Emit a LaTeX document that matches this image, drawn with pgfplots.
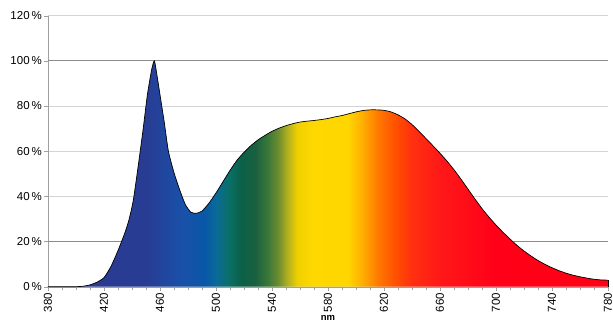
\documentclass[border=0pt]{standalone}
\usepackage{pgfplots}
\pgfplotsset{compat=1.18}
\usepackage{fontspec}
\setmainfont{Liberation Sans}

\definecolor{s380}{RGB}{42,58,144}
\definecolor{s450}{RGB}{40,60,148}
\definecolor{s475}{RGB}{26,80,168}
\definecolor{s492}{RGB}{8,88,168}
\definecolor{s500}{RGB}{10,106,152}
\definecolor{s509}{RGB}{10,112,104}
\definecolor{s518}{RGB}{10,96,72}
\definecolor{s528}{RGB}{26,96,64}
\definecolor{s537}{RGB}{58,120,56}
\definecolor{s544}{RGB}{106,138,48}
\definecolor{s551}{RGB}{176,176,32}
\definecolor{s558}{RGB}{240,208,0}
\definecolor{s570}{RGB}{255,216,0}
\definecolor{s594}{RGB}{255,214,0}
\definecolor{s604}{RGB}{255,176,0}
\definecolor{s616}{RGB}{255,120,0}
\definecolor{s628}{RGB}{255,80,0}
\definecolor{s640}{RGB}{255,48,16}
\definecolor{s660}{RGB}{255,24,24}
\definecolor{s700}{RGB}{255,0,24}
\definecolor{s780}{RGB}{255,0,20}
\definecolor{gridlight}{RGB}{212,212,212}
\definecolor{griddark}{RGB}{140,140,140}
\definecolor{axisgray}{RGB}{160,160,160}

% position = 25bp + (nm-380)/8 bp
\pgfdeclarehorizontalshading{spectrum}{100bp}{
  color(0bp)=(s380); color(25bp)=(s380); color(33.75bp)=(s450);
  color(36.875bp)=(s475); color(39bp)=(s492); color(40bp)=(s500);
  color(41.125bp)=(s509); color(42.25bp)=(s518); color(43.5bp)=(s528);
  color(44.625bp)=(s537); color(45.5bp)=(s544); color(46.375bp)=(s551);
  color(47.25bp)=(s558); color(48.75bp)=(s570); color(51.75bp)=(s594);
  color(53bp)=(s604); color(54.5bp)=(s616); color(56bp)=(s628);
  color(57.5bp)=(s640); color(60bp)=(s660); color(65bp)=(s700);
  color(75bp)=(s780); color(100bp)=(s780)}

\pgfplotstableread{
nm val
380 0
390 0
400 0
405 0.2
410 0.8
415 2
420 4
425 9
430 16
435 24
438 30
441 38.5
445 56
448 70
451 85
454 96
456 100
458 93
460 85
463 73
466 60
470 50.5
474 43
478 36.5
482 33
486 32.5
490 33.5
495 37
500 41.5
505 46.5
510 51.5
515 56
520 59.5
525 62.5
530 65
535 67
540 68.8
545 70.2
550 71.3
555 72.2
560 72.9
565 73.3
570 73.6
575 74
580 74.5
585 75.2
590 75.8
595 76.6
600 77.4
605 78
610 78.3
615 78.3
620 78.1
625 77.4
630 76.1
635 74.3
640 71.8
645 68.8
650 65.6
655 62.4
660 59.1
665 55.6
670 51.8
675 47.6
680 43.2
685 38.8
690 34.6
695 30.8
700 27.3
705 24.1
710 21.1
715 18.3
720 15.8
725 13.6
730 11.6
735 9.9
740 8.4
745 7.1
750 6.0
755 5.1
760 4.4
765 3.8
770 3.3
775 3.0
780 2.9
}\spectrumdata

\begin{document}
\begin{tikzpicture}[font=\fontsize{11.5}{13}\selectfont]
\begin{axis}[
  scale only axis,
  width=560pt, height=271pt,
  xmin=380, xmax=780,
  ymin=0, ymax=120,
  axis x line*=bottom,
  axis y line*=left,
  axis line style={axisgray},
  xtick={380,420,...,780},
  xticklabels={380,420,460,500,540,580,620,660,700,740,780},
  minor x tick num=3,
  ytick={0,20,...,120},
  yticklabels={0\,\%,20\,\%,40\,\%,60\,\%,80\,\%,100\,\%,120\,\%},
  tick align=outside,
  major tick length=4pt,
  minor tick length=3pt,
  tick style={axisgray},
  xticklabel style={rotate=90, anchor=east, inner sep=2pt},
  yticklabel style={inner sep=2pt},
  ymajorgrids,
  grid style={gridlight, line width=1pt},
  extra y ticks={20,100},
  extra y tick labels={},
  extra y tick style={grid style={griddark, line width=0.8pt}},
  xlabel={\fontsize{9.5}{10}\selectfont\bfseries nm},
  xlabel style={at={(rel axis cs:0.5,0)}, anchor=center, yshift=-31.5pt},
  clip=false,
]
\addplot[draw=none, shade, shading=spectrum, smooth, tension=0.35] table[x=nm, y=val] {\spectrumdata} \closedcycle;
\addplot[black, line width=0.7pt, smooth, tension=0.35] table[x=nm, y=val] {\spectrumdata};
\addplot[black, line width=0.7pt] coordinates {(780,2.9) (780,0)};
\end{axis}
\pgfresetboundingbox
\path[use as bounding box] (-48pt,-37.3pt) rectangle (565pt,286.7pt);
\end{tikzpicture}
\end{document}
